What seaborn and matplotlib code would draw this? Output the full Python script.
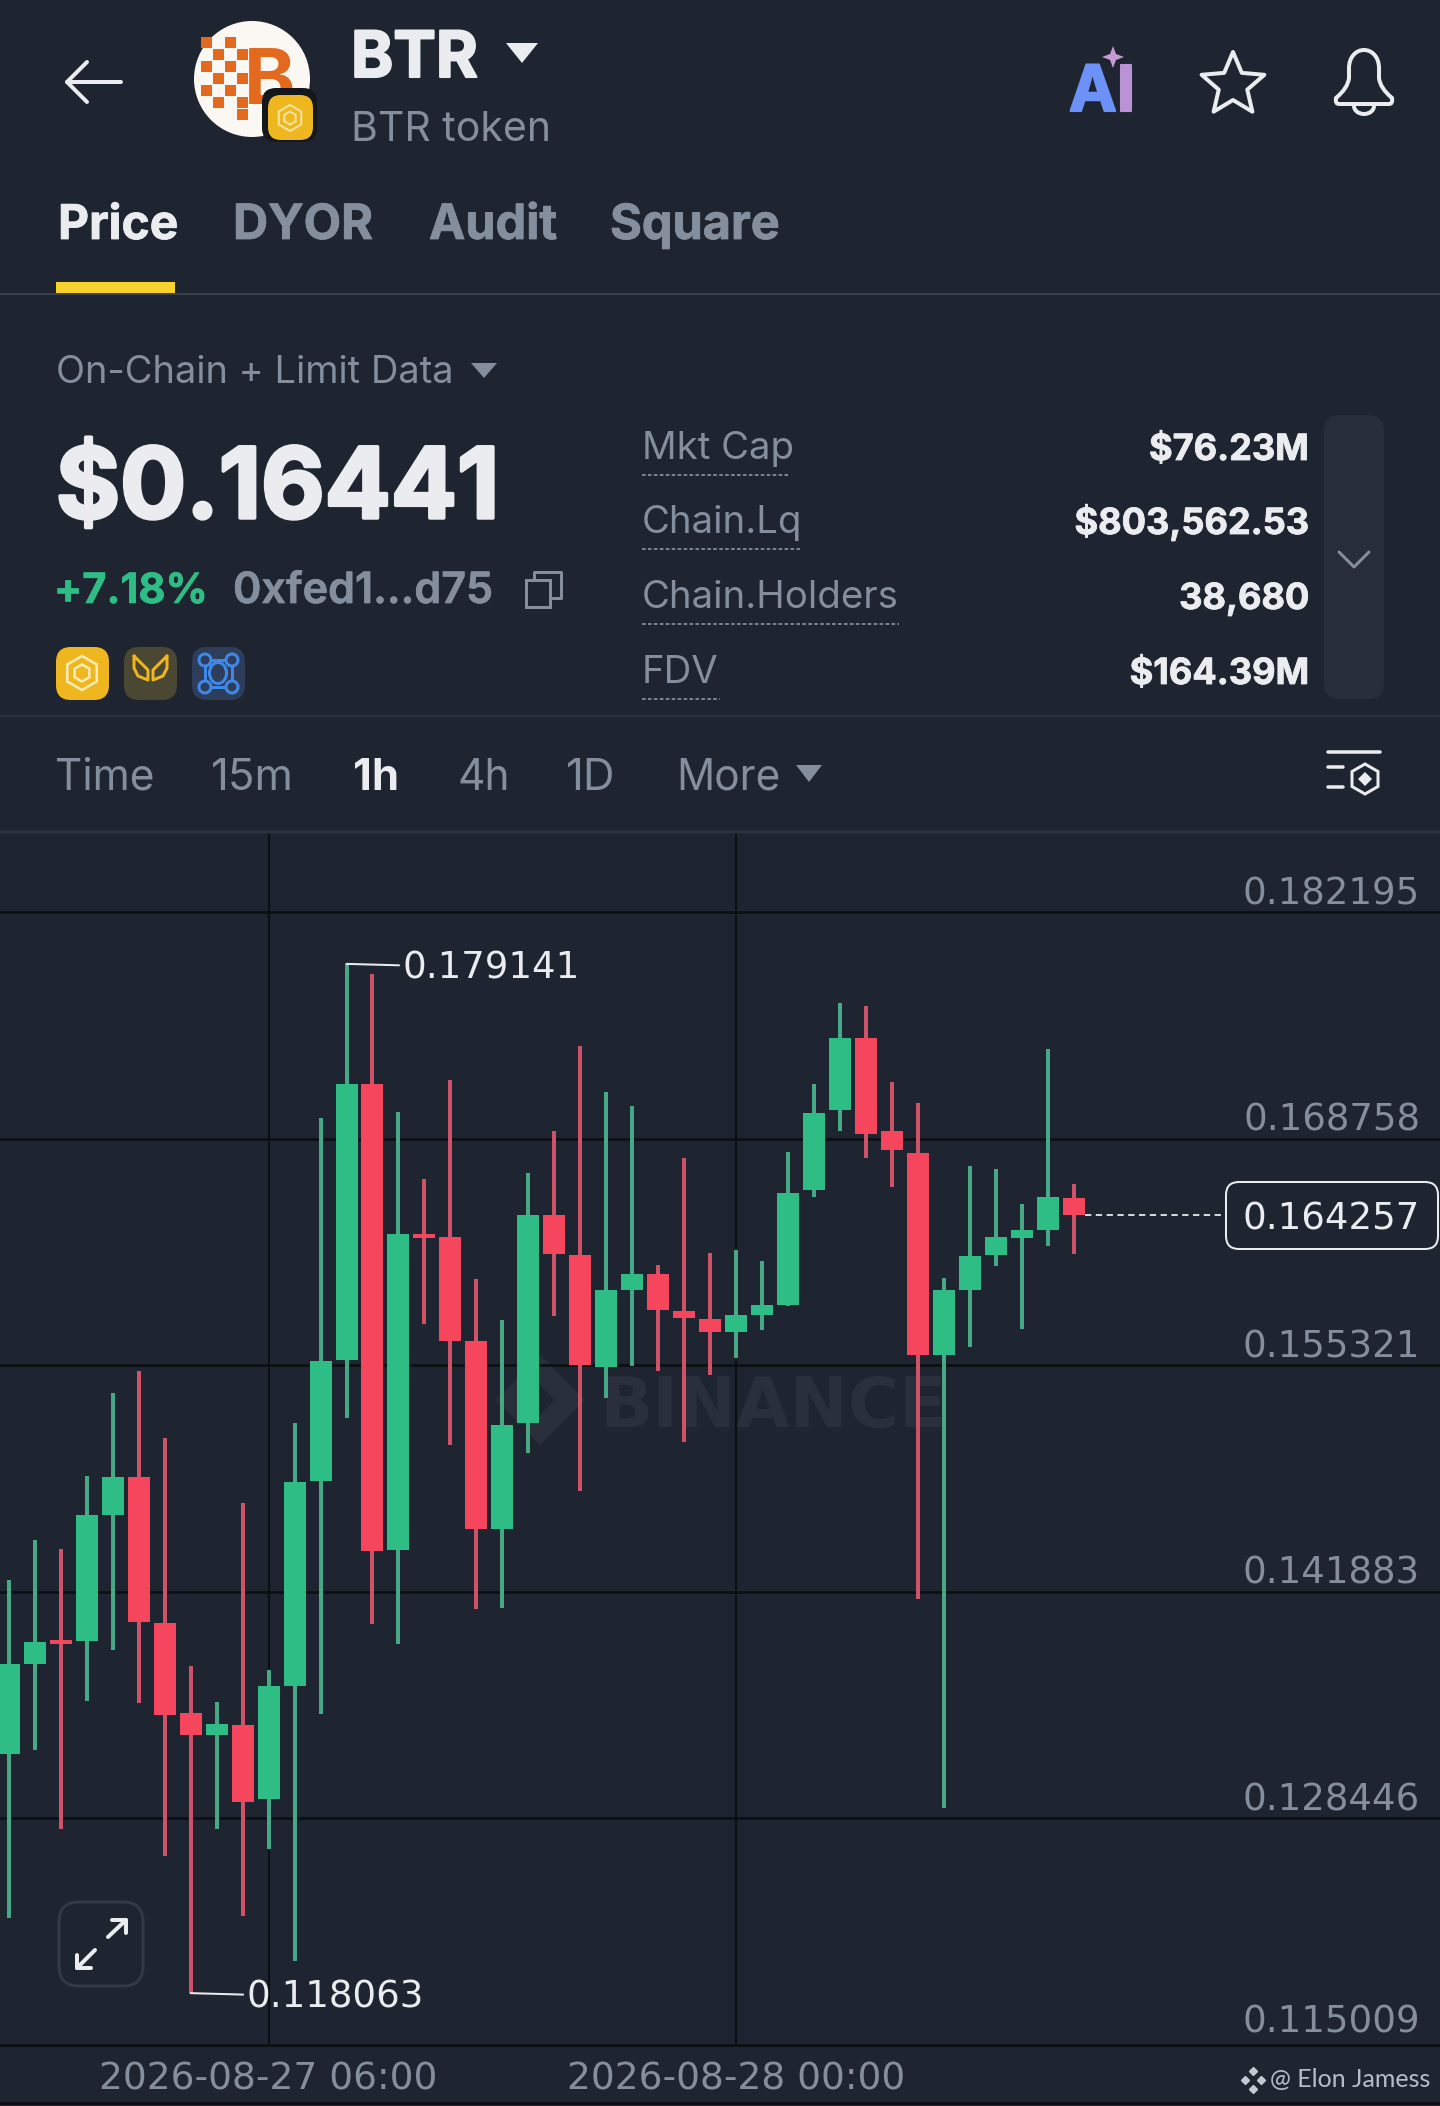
import numpy as np
import pandas as pd
import matplotlib
matplotlib.use("Agg")
import matplotlib.pyplot as plt
import matplotlib.patheffects as pe
import seaborn as sns
from matplotlib.patches import FancyBboxPatch, Ellipse, Rectangle, Polygon, Circle, Arc, PathPatch
from matplotlib.path import Path
from matplotlib.transforms import ScaledTranslation

# ---------------------------------------------------------
# 1. DATA
# ---------------------------------------------------------
opens = [0.132278, 0.137589, 0.139031, 0.138954, 0.146419, 0.148680, 0.140040, 0.134676, 0.133394, 0.133963, 0.129608,
         0.136307, 0.148460, 0.155646, 0.172018, 0.144384, 0.163088, 0.162933, 0.156762, 0.145606, 0.151896, 0.164257,
         0.161877, 0.155231, 0.159800, 0.160720, 0.158536, 0.158061, 0.157278, 0.158334, 0.158910, 0.165693, 0.170458,
         0.174754, 0.169200, 0.167942, 0.155949, 0.159764, 0.161841, 0.162898, 0.163372, 0.165248]
highs = [0.142580, 0.144971, 0.144401, 0.148763, 0.153664, 0.154970, 0.150994, 0.137453, 0.135358, 0.147155, 0.137263,
         0.151896, 0.169977, 0.179141, 0.178534, 0.170351, 0.166375, 0.172256, 0.160441, 0.158002, 0.166713, 0.169200,
         0.174273, 0.171549, 0.170701, 0.161260, 0.167633, 0.161978, 0.162150, 0.161503, 0.167971, 0.171994, 0.176831,
         0.176623, 0.172131, 0.170903, 0.160512, 0.167158, 0.166951, 0.164909, 0.174071, 0.166066]
lows = [0.122493, 0.132492, 0.127810, 0.135411, 0.138432, 0.135299, 0.126225, 0.118063, 0.127810, 0.122630, 0.126635,
        0.119959, 0.134622, 0.152199, 0.139986, 0.138758, 0.157765, 0.150614, 0.140829, 0.140912, 0.150086, 0.158234,
        0.147843, 0.153391, 0.155302, 0.154994, 0.150739, 0.154756, 0.155777, 0.157415, 0.158809, 0.165319, 0.169200,
        0.167597, 0.165894, 0.141470, 0.129074, 0.156394, 0.161230, 0.157480, 0.162423, 0.161907]
closes = [0.137619, 0.138871, 0.138788, 0.146419, 0.148703, 0.140070, 0.134592, 0.133394, 0.134023, 0.129418, 0.136307,
          0.148407, 0.155575, 0.171989, 0.144306, 0.163088, 0.162850, 0.156786, 0.145606, 0.151801, 0.164257, 0.161907,
          0.155338, 0.159764, 0.160750, 0.158572, 0.158097, 0.157278, 0.158334, 0.158910, 0.165520, 0.170321, 0.174718,
          0.169063, 0.168108, 0.155913, 0.159764, 0.161806, 0.162933, 0.163343, 0.165283, 0.164257]

y_ticks = [0.115009, 0.128446, 0.141883, 0.155321, 0.168758, 0.182195]
y_labels = ["0.115009", "0.128446", "0.141883", "0.155321", "0.168758", "0.182195"]
x_tick_pos = [10, 28]
x_tick_labels = ["2026-08-27 06:00", "2026-08-28 00:00"]

tabs = ["Price", "DYOR", "Audit", "Square"]
tab_x = [58, 233, 429, 610]
intervals = ["Time", "15m", "1h", "4h", "1D", "More"]
interval_x = [55, 211, 353, 457, 566, 676]
stat_names = ["Mkt Cap", "Chain.Lq", "Chain.Holders", "FDV"]
stat_values = ["$76.23M", "$803,562.53", "38,680", "$164.39M"]
stat_base = [459, 533, 608, 683]
stat_under = [788, 802, 899, 720]

# ---------------------------------------------------------
# 2. THEME AND COLOURS
# ---------------------------------------------------------
BG = "#1E2530"
GRID = "#0C0F13"
WHITE = "#EAECEF"
GREY = "#848E9C"
GREEN = "#2EBD85"
RED = "#F6465D"
WICK_G = "#47A886"
WICK_R = "#CE5369"
CHART_FONT = "DejaVu Sans"
PX = 0.72  # one pixel in points at dpi 100

sns.set_theme(style="darkgrid", rc={
    "figure.facecolor": BG, "axes.facecolor": "none",
    "grid.color": GRID, "grid.linewidth": 2.6 * PX,
    "axes.edgecolor": GRID, "text.color": WHITE,
})
plt.rcParams["font.family"] = ["Inter", "DejaVu Sans"]

fig = plt.figure(figsize=(14.4, 21.06), dpi=100)


def pixel_axes(z):
    a = fig.add_axes([0, 0, 1, 1], zorder=z)
    a.set_xlim(0, 1440)
    a.set_ylim(2106, 0)
    a.axis("off")
    return a


under = pixel_axes(0)
ax = fig.add_axes([0, 1 - 2044.6 / 2106, 1, (2044.6 - 833) / 2106], zorder=1)
ui = pixel_axes(2)

# ---------------------------------------------------------
# 3. CANDLES
# ---------------------------------------------------------
candles = pd.DataFrame({"candle": range(len(opens)), "open": opens, "high": highs, "low": lows, "close": closes})
candles["side"] = np.where(candles["close"] >= candles["open"], "up", "down")

wicks = candles.melt(id_vars=["candle", "side"], value_vars=["low", "high"], value_name="price")
bodies = candles.melt(id_vars=["candle", "side"], value_vars=["open", "close"], value_name="price")

sns.lineplot(data=wicks, x="candle", y="price", hue="side", units="candle", estimator=None, sort=False,
             palette={"up": WICK_G, "down": WICK_R}, legend=False, linewidth=4 * PX, solid_capstyle="butt", ax=ax)
sns.lineplot(data=bodies, x="candle", y="price", hue="side", units="candle", estimator=None, sort=False,
             palette={"up": GREEN, "down": RED}, legend=False, linewidth=22 * PX, solid_capstyle="butt", ax=ax)

ax.set_xlim(-0.331, 55.07)
ax.set_ylim(0.115009, 0.186907)
ax.set_xlabel("")
ax.set_ylabel("")
ax.set_xticks(x_tick_pos)
ax.set_xticklabels(x_tick_labels, fontsize=27, color=GREY, family=CHART_FONT)
ax.set_yticks(y_ticks)
ax.yaxis.tick_right()
ax.set_yticklabels(y_labels, fontsize=26.7, color=GREY, family=CHART_FONT, ha="right", va="bottom")
ax.tick_params(axis="y", length=0, pad=-20 * PX)
ax.tick_params(axis="x", length=0, pad=12)
ax.grid(True, axis="x", linewidth=2.2 * PX)
for side in ["top", "left", "right"]:
    ax.spines[side].set_visible(False)
ax.spines["bottom"].set_linewidth(3 * PX)
ax.spines["bottom"].set_color(GRID)
# the lowest price label sits a little higher above its line
low_label = ax.yaxis.get_majorticklabels()[0]
low_label.set_transform(low_label.get_transform() + ScaledTranslation(0, 3 / 72, fig.dpi_scale_trans))

# high / low call-outs and last price
hi_idx = int(np.argmax(highs))
lo_idx = int(np.argmin(lows))
ax.annotate(f"{highs[hi_idx]:.6f}", xy=(hi_idx, highs[hi_idx]), xytext=(15.15, highs[hi_idx]), fontsize=26.7,
            color=WHITE, family=CHART_FONT, va="center_baseline",
            arrowprops=dict(arrowstyle="-", color=WHITE, lw=2 * PX, shrinkA=0, shrinkB=0))
ax.annotate(f"{lows[lo_idx]:.6f}", xy=(lo_idx, lows[lo_idx]), xytext=(9.15, lows[lo_idx]), fontsize=26.7,
            color=WHITE, family=CHART_FONT, va="center_baseline",
            arrowprops=dict(arrowstyle="-", color=WHITE, lw=2 * PX, shrinkA=0, shrinkB=0))
ax.plot([41.4, 46.9], [closes[-1], closes[-1]], color=WHITE, lw=1.8 * PX, dashes=(3.5, 2.5))
ui.add_patch(FancyBboxPatch((1226, 1182), 212, 67, boxstyle="round,pad=0,rounding_size=13", fc=BG, ec=WHITE, lw=2 * PX))
ui.text(1420, 1229, f"{closes[-1]:.6f}", fontsize=26.7, color=WHITE, family=CHART_FONT, ha="right", va="baseline")

# watermark, underneath the candles
under.text(600, 1400, "BINANCE", fontsize=50, weight="bold", color="#29303B", family="DejaVu Sans",
           va="center_baseline")
for pts in ([(496, 1400), (520, 1376), (532, 1388), (520, 1400), (532, 1412), (520, 1424)],
            [(540, 1355), (585, 1400), (540, 1445), (525, 1430), (555, 1400), (525, 1370)]):
    under.add_patch(Polygon(pts, closed=True, fc="#29303B", ec="none"))

# ---------------------------------------------------------
# 4. APP CHROME
# ---------------------------------------------------------


def label(x, y, s, size, color=GREY, weight="normal", ha="left", stroke=0):
    t = ui.text(x, y, s, fontsize=size, color=color, weight=weight, ha=ha, va="baseline")
    if stroke:
        t.set_path_effects([pe.withStroke(linewidth=stroke, foreground=color)])
    return t


def line(xs, ys, color=WHITE, lw=4, **kw):
    ui.plot(xs, ys, color=color, lw=lw * PX, solid_capstyle="round", solid_joinstyle="round", **kw)


def badge(x, y, w, h, color, r=15, z=3):
    ui.add_patch(FancyBboxPatch((x, y), w, h, boxstyle=f"round,pad=0,rounding_size={r}", fc=color, ec="none", zorder=z))


def hex_glyph(cx, cy, r, color, lw=2):
    t = np.deg2rad(np.arange(0, 360, 60) + 30)
    ui.add_patch(Polygon(np.c_[cx + r * np.cos(t), cy + r * np.sin(t)], closed=True, fc="none", ec=color,
                         lw=lw * PX, zorder=5))
    ui.add_patch(Polygon(np.c_[cx + 0.5 * r * np.cos(t), cy + 0.5 * r * np.sin(t)], closed=True, fc="none", ec=color,
                         lw=lw * PX, zorder=5))


# back arrow
line([67, 121], [82, 82])
line([87, 67, 87], [62, 82, 102])

# token logo
ui.add_patch(Ellipse((252, 79), 116, 116, fc="#FBF7F2", ec="none"))
for cx, cy in [(207, 43), (231, 43), (219, 55), (207, 67), (231, 67), (219, 79), (207, 91), (231, 91), (219, 103),
               (243, 55), (243, 79), (243, 103), (243, 115)]:
    ui.add_patch(Rectangle((cx - 6, cy - 6), 11, 11, fc="#E2691E", ec="none"))
ui.text(270, 104, "B", fontsize=56, weight="bold", color="#E2691E", ha="center", va="baseline")
badge(262, 88, 55, 54, "#14171C", 14, z=3)
badge(268, 95, 45, 45, "#EFB71F", 13, z=4)
hex_glyph(290, 118, 13, "#F7E3A1")

# title
label(351, 77, "BTR", 46, WHITE, "bold", stroke=1.5)
ui.add_patch(Polygon([(506, 43), (538, 43), (522, 63)], closed=True, fc=WHITE, ec="none"))
label(351, 141, "BTR token", 29.5)

# AI / star / bell
label(1069, 111, "A", 46, "#6C92FA", "bold", stroke=1.5)
label(1117, 111, "I", 46, "#B993D6", "bold", stroke=1.5)
ui.add_patch(Polygon([(1113, 46), (1116, 54), (1124, 57), (1116, 60), (1113, 68), (1110, 60), (1102, 57), (1110, 54)],
                     closed=True, fc="#C79AD6", ec="none"))
a = np.deg2rad(np.arange(0, 360, 36) - 90)
rad = np.where(np.arange(10) % 2 == 0, 33, 15)
ui.add_patch(Polygon(np.c_[1233 + rad * np.cos(a), 85 + rad * np.sin(a)], closed=True, fc="none", ec=WHITE,
                     lw=4 * PX, joinstyle="round"))
bell = Path([(1339, 104), (1389, 104), (1393, 104), (1392, 98), (1380, 88), (1379, 78), (1379, 68), (1379, 57),
             (1372, 50), (1364, 50), (1356, 50), (1349, 57), (1349, 68), (1349, 78), (1348, 88), (1336, 98),
             (1335, 104), (1339, 104)],
            [Path.MOVETO, Path.LINETO, Path.CURVE3, Path.CURVE3, Path.CURVE3, Path.CURVE3, Path.LINETO, Path.CURVE4,
             Path.CURVE4, Path.CURVE4, Path.CURVE4, Path.CURVE4, Path.CURVE4, Path.LINETO, Path.CURVE3, Path.CURVE3,
             Path.CURVE3, Path.CURVE3])
ui.add_patch(PathPatch(bell, fc="none", ec=WHITE, lw=4 * PX))
ui.add_patch(Arc((1364, 106), 20, 16, theta1=0, theta2=180, ec=WHITE, lw=4 * PX))

# tabs
for i, (name, x) in enumerate(zip(tabs, tab_x)):
    label(x, 239, name, 34.5 if i == 0 else 35, WHITE if i == 0 else GREY, "bold", stroke=0.6)
ui.add_patch(Rectangle((56, 282), 119, 11, fc="#F8D12F", ec="none", zorder=4))
ui.plot([0, 1440], [294, 294], color="#3A414C", lw=2 * PX)

# price block
label(56, 383, "On-Chain + Limit Data", 27.4)
ui.add_patch(Polygon([(471, 363), (497, 363), (484, 378)], closed=True, fc=GREY, ec="none"))
label(56, 518, "$0.16441", 70.5, WHITE, "bold", stroke=2.5)
label(54, 603, "+7.18%", 30, GREEN, "bold", stroke=0.5)
label(233, 603, "0xfed1...d75", 31, GREY, "semibold", stroke=0.5)
ui.add_patch(Rectangle((526, 580), 24, 27, fc="none", ec=GREY, lw=3 * PX))
line([534, 534, 561, 561, 552], [580, 572, 572, 598, 598], color=GREY, lw=3)

# chain badges
badge(56, 647, 53, 53, "#EFB71F", 15)
hex_glyph(82, 673, 17, "#FBEBB8", 2.5)
badge(124, 647, 53, 53, "#4A4733", 15)
line([150, 150], [678, 691], "#EFB71F", 3)
line([134, 167], [691, 691], "#EFB71F", 3)
line([134, 134, 138, 148, 148, 140, 134], [656, 668, 676, 680, 670, 662, 656], "#EFB71F", 3, zorder=5)
line([167, 167, 163, 153, 153, 161, 167], [656, 668, 676, 680, 670, 662, 656], "#EFB71F", 3, zorder=5)
badge(192, 647, 53, 53, "#2E3E5A", 15)
line([205, 232, 232, 205, 205], [660, 660, 687, 687, 660], "#3F88E8", 3, zorder=5)
for cx, cy in [(205, 660), (232, 660), (205, 687), (232, 687)]:
    ui.add_patch(Circle((cx, cy), 6, fc="#2E3E5A", ec="#3F88E8", lw=3 * PX, zorder=6))
ui.add_patch(Ellipse((218, 673), 17, 21, fc="none", ec="#3F88E8", lw=3 * PX, zorder=6))

# stats
for name, value, base, end in zip(stat_names, stat_values, stat_base, stat_under):
    label(642, base, name, 27.6)
    label(1309, base + 1, value, 26, WHITE, "bold", ha="right", stroke=0.6)
    ui.plot([642, end], [base + 15.5, base + 15.5], color=GREY, lw=1.8 * PX, dashes=(2, 1.3))
badge(1324, 415, 60, 284, "#272E3A", 16)
line([1339, 1354, 1369], [552, 567, 552], GREY, 3, zorder=5)

ui.plot([0, 1440], [716, 716], color="#2B323C", lw=2.5 * PX)

# interval row
for name, x in zip(intervals, interval_x):
    active = name == "1h"
    label(x, 790, name, 31.5 if name in ("15m", "1D", "1h") else 30.5, WHITE if active else GREY,
          "bold" if active else "normal")
ui.add_patch(Polygon([(796, 765), (822, 765), (809, 782)], closed=True, fc=GREY, ec="none"))
line([1328, 1380], [752, 752], WHITE, 3.5)
line([1328, 1343], [767, 767], WHITE, 3.5)
line([1328, 1343], [787, 787], WHITE, 3.5)
t6 = np.deg2rad(np.arange(0, 360, 60) + 30)
ui.add_patch(Polygon(np.c_[1365 + 15 * np.cos(t6), 779 + 15 * np.sin(t6)], closed=True, fc="none", ec=WHITE, lw=3 * PX))
ui.add_patch(Polygon([(1365, 772), (1372, 779), (1365, 786), (1358, 779)], closed=True, fc=WHITE, ec="none"))
ui.plot([0, 1440], [832, 832], color="#2A303A", lw=3.5 * PX)

# expand button
ui.add_patch(FancyBboxPatch((59, 1902), 84, 84, boxstyle="round,pad=0,rounding_size=20", fc="none", ec="#333A45",
                            lw=3 * PX))
line([95, 77], [1950, 1968], WHITE, 4)
line([77, 77, 91], [1955, 1968, 1968], WHITE, 4)
line([108, 126], [1937, 1920], WHITE, 4)
line([112, 126, 126], [1920, 1920, 1933], WHITE, 4)

# bottom edge and credit
ui.plot([0, 1440], [2103, 2103], color=GRID, lw=3 * PX)
for cx, cy in [(1253, 2071), (1245, 2080), (1261, 2080), (1253, 2089)]:
    ui.plot(cx, cy, marker="D", ms=4.5, color="#C4C9D0", ls="none")
ui.text(1270, 2087, "@ Elon Jamess", fontsize=18, color="#B7BDC6", family="Lato", va="baseline")

fig.savefig("out.png", dpi=100, facecolor=BG)
